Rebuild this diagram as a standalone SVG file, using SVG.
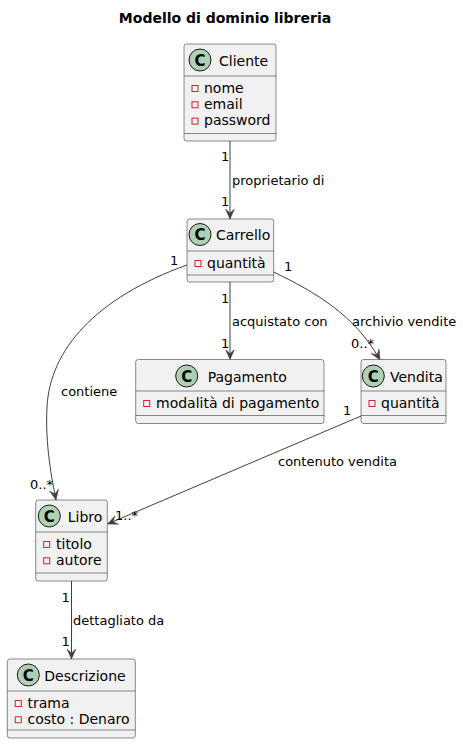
<svg xmlns="http://www.w3.org/2000/svg" width="463" height="744" viewBox="0 0 463 744">
<style>
text{font-family:"DejaVu Sans","Liberation Sans",sans-serif;fill:#000}
.title{font-size:14px;font-weight:bold}
.name{font-size:14px}
.attr{font-size:14px}
.lbl{font-size:13px}
.cl{font-size:15px;font-weight:bold}
.box{fill:#F1F1F1;stroke:#181818;stroke-width:0.5}
.sep{stroke:#181818;stroke-width:0.5}
.circ{fill:#ADD1B2;stroke:#181818;stroke-width:1}
.priv{fill:none;stroke:#C82930;stroke-width:1}
.edge{fill:none;stroke:#404040;stroke-width:1;marker-end:url(#arr)}
</style>
<defs>
<marker id="arr" viewBox="0 0 10 10" refX="10" refY="5" markerWidth="10" markerHeight="10" markerUnits="userSpaceOnUse" orient="auto">
<path d="M10,5 L0,0.5 L4,5 L0,9.5 Z" fill="#404040" stroke="#404040" stroke-width="0.5"/>
</marker>
</defs>
<rect width="463" height="744" fill="#FFFFFF"/>
<text class="title" x="225" y="23" text-anchor="middle">Modello di dominio libreria</text>

<g id="edges">
<path class="edge" d="M230,141 L230,219"/>
<text class="lbl" x="221" y="161">1</text>
<text class="lbl" x="232" y="185">proprietario di</text>
<text class="lbl" x="221" y="206">1</text>

<path class="edge" d="M230,282 L230,359.5"/>
<text class="lbl" x="221" y="303">1</text>
<text class="lbl" x="232" y="326">acquistato con</text>
<text class="lbl" x="221" y="348">1</text>

<path class="edge" d="M273.7,272 C315,292 355,315 380,360"/>
<text class="lbl" x="284" y="271">1</text>
<text class="lbl" x="352" y="326">archivio vendite</text>
<text class="lbl" x="351" y="348">0..*</text>

<path class="edge" d="M187,265 C95,298 50,350 47,407 C45,445 52,480 56,500"/>
<text class="lbl" x="170" y="264.5">1</text>
<text class="lbl" x="61" y="396">contiene</text>
<text class="lbl" x="30" y="489">0..*</text>

<path class="edge" d="M361,416 L107.5,524"/>
<text class="lbl" x="343" y="415">1</text>
<text class="lbl" x="278" y="466">contenuto vendita</text>
<text class="lbl" x="115" y="520">1..*</text>

<path class="edge" d="M71.5,581 L71.5,659"/>
<text class="lbl" x="61.5" y="601.5">1</text>
<text class="lbl" x="73" y="624.5">dettagliato da</text>
<text class="lbl" x="61.5" y="645.5">1</text>
</g>

<g id="Cliente">
<rect class="box" x="184" y="44" width="92" height="97" rx="2.5"/>
<circle class="circ" cx="200" cy="60" r="11"/>
<text class="cl" x="200" y="65.5" text-anchor="middle">C</text>
<text class="name" x="219" y="65.5">Cliente</text>
<line class="sep" x1="184" y1="76" x2="276" y2="76"/>
<rect class="priv" x="192" y="85.5" width="6" height="6"/>
<text class="attr" x="204" y="92.5">nome</text>
<rect class="priv" x="192" y="101.8" width="6" height="6"/>
<text class="attr" x="204" y="108.8">email</text>
<rect class="priv" x="192" y="118.1" width="6" height="6"/>
<text class="attr" x="204" y="125.1">password</text>
<line class="sep" x1="184" y1="133.5" x2="276" y2="133.5"/>
</g>

<g id="Carrello">
<rect class="box" x="187" y="219" width="86.7" height="63" rx="2.5"/>
<circle class="circ" cx="200" cy="234.5" r="11"/>
<text class="cl" x="200" y="240" text-anchor="middle">C</text>
<text class="name" x="216" y="240">Carrello</text>
<line class="sep" x1="187" y1="251" x2="273.7" y2="251"/>
<rect class="priv" x="195" y="260.5" width="6" height="6"/>
<text class="attr" x="207" y="267.5">quantità</text>
<line class="sep" x1="187" y1="275" x2="273.7" y2="275"/>
</g>

<g id="Pagamento">
<rect class="box" x="135.7" y="359.5" width="188.3" height="64" rx="2.5"/>
<circle class="circ" cx="186.7" cy="376" r="11"/>
<text class="cl" x="186.7" y="381.5" text-anchor="middle">C</text>
<text class="name" x="207.7" y="381.5">Pagamento</text>
<line class="sep" x1="135.7" y1="391" x2="324" y2="391"/>
<rect class="priv" x="143.7" y="400.5" width="6" height="6"/>
<text class="attr" x="156" y="407.5">modalità di pagamento</text>
<line class="sep" x1="135.7" y1="415.5" x2="324" y2="415.5"/>
</g>

<g id="Vendita">
<rect class="box" x="361" y="359.5" width="85" height="64" rx="2.5"/>
<circle class="circ" cx="373.3" cy="376" r="11"/>
<text class="cl" x="373.3" y="381.5" text-anchor="middle">C</text>
<text class="name" x="390" y="381.5">Vendita</text>
<line class="sep" x1="361" y1="391" x2="446" y2="391"/>
<rect class="priv" x="369" y="400.5" width="6" height="6"/>
<text class="attr" x="381" y="407.5">quantità</text>
<line class="sep" x1="361" y1="415.5" x2="446" y2="415.5"/>
</g>

<g id="Libro">
<rect class="box" x="35.7" y="500" width="71.6" height="81" rx="2.5"/>
<circle class="circ" cx="49.3" cy="516" r="11"/>
<text class="cl" x="49.3" y="521.5" text-anchor="middle">C</text>
<text class="name" x="67.7" y="521.5">Libro</text>
<line class="sep" x1="35.7" y1="532" x2="107.3" y2="532"/>
<rect class="priv" x="43.7" y="541.5" width="6" height="6"/>
<text class="attr" x="56" y="548.5">titolo</text>
<rect class="priv" x="43.7" y="557.8" width="6" height="6"/>
<text class="attr" x="56" y="564.8">autore</text>
<line class="sep" x1="35.7" y1="573" x2="107.3" y2="573"/>
</g>

<g id="Descrizione">
<rect class="box" x="7.3" y="659" width="128" height="79" rx="2.5"/>
<circle class="circ" cx="28.3" cy="675" r="11"/>
<text class="cl" x="28.3" y="680.5" text-anchor="middle">C</text>
<text class="name" x="44.3" y="680.5">Descrizione</text>
<line class="sep" x1="7.3" y1="691" x2="135.3" y2="691"/>
<rect class="priv" x="15.3" y="700.5" width="6" height="6"/>
<text class="attr" x="27.5" y="707.5">trama</text>
<rect class="priv" x="15.3" y="716.8" width="6" height="6"/>
<text class="attr" x="27.5" y="723.8">costo : Denaro</text>
<line class="sep" x1="7.3" y1="730" x2="135.3" y2="730"/>
</g>
</svg>
